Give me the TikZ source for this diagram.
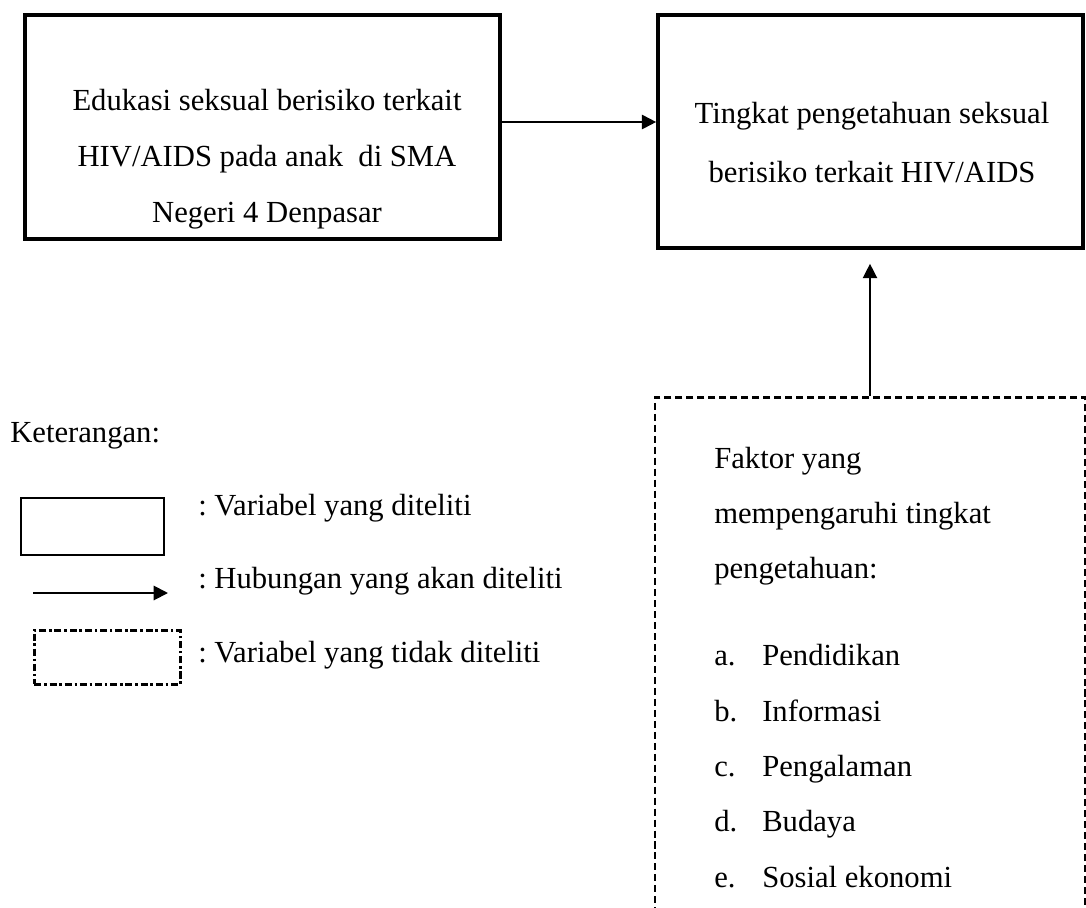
\documentclass[tikz,border=0pt]{standalone}
\usepackage{fontspec}
\setmainfont{Liberation Serif}
\usepackage{tikz}
\usetikzlibrary{positioning,calc,arrows.meta}
\tikzset{%
  arrow/.style = {
    -{Triangle[length=0.36cm, width=0.36cm]},
    line width = #1,
    draw = black,
  },
  arrow/.default = {1.2pt},
  vbox/.style = {
    draw = black,
    line width = #1,
    inner sep = 0pt,
  },
  vbox/.default = {2.6pt},
  nbox/.style = {
    draw = black,
    line width = 1.9pt,
    dash pattern = on 5pt off 2.8pt,
  },
  dotbox/.style = {
    draw = black,
    line width = 1.9pt,
    dash pattern = on 5pt off 2pt on 1.8pt off 2pt,
  },
  txt/.style = {
    inner sep = 0pt,
    anchor = base west,
    font = \fontsize{21.8}{39}\selectfont\frenchspacing,
  },
  ctxt/.style = {
    inner sep = 0pt,
    anchor = base,
    align = center,
    font = \fontsize{21.8}{#1}\selectfont,
  },
}

\begin{document}
\begin{tikzpicture}
\clip (0,0) rectangle (27.15,-22.675);

% variabel yang diteliti
\node(var1) [vbox, minimum width=11.875cm, minimum height=5.6cm]   at (6.5625,-3.175)  {};
\node(var2) [vbox, minimum width=10.625cm, minimum height=5.825cm] at (21.7625,-3.2875) {};
\node(var1txt) [ctxt=39.8pt] at (6.675,-5.55)
  {Edukasi seksual berisiko terkait\\HIV/AIDS pada anak \ di SMA\\Negeri 4 Denpasar};
\node(var2txt) [ctxt=41.9pt] at (21.8,-4.55)
  {Tingkat pengetahuan seksual\\berisiko terkait HIV/AIDS};

% variabel yang tidak diteliti
\node(faktor) [nbox, anchor=north, minimum width=10.75cm, minimum height=14cm] at (21.75,-9.9) {};
\node(f1) [txt] at (17.85,-11.7)   {Faktor yang};
\node(f2) [txt] at (17.85,-13.075) {mempengaruhi tingkat};
\node(f3) [txt] at (17.85,-14.45)  {pengetahuan:};
\node(la) [txt] at (17.85,-16.625) {a.};
\node(ia) [txt] at (19.05,-16.625) {Pendidikan};
\node(lb) [txt] at (17.85,-18.025) {b.};
\node(ib) [txt] at (19.05,-18.025) {Informasi};
\node(lc) [txt] at (17.85,-19.4)   {c.};
\node(ic) [txt] at (19.05,-19.4)   {Pengalaman};
\node(ld) [txt] at (17.85,-20.775) {d.};
\node(id) [txt] at (19.05,-20.775) {Budaya};
\node(le) [txt] at (17.85,-22.175) {e.};
\node(ie) [txt] at (19.05,-22.175) {Sosial ekonomi};

\draw[arrow=1.4pt] ([yshift=0.125cm]var1.east) -- ([yshift=0.2375cm]var2.west);
\draw[arrow=1pt]   (faktor.north) -- ($(var2.south -| faktor.north)+(0,-0.35)$);

% keterangan
\node(ket) [txt] at (0.25,-11.05) {Keterangan:};
\node(lg1) [vbox=1.4pt, anchor=north west, minimum width=3.575cm, minimum height=1.425cm] at (0.5,-12.425) {};
\node(lg1txt) [txt] at (4.95,-12.875) {: Variabel yang diteliti};
\coordinate(lg2a) at (0.825,-14.825);
\coordinate(lg2b) at (4.2,-14.825);
\draw[arrow=1.4pt] (lg2a) -- (lg2b);
\node(lg2txt) [txt] at (4.95,-14.7) {: Hubungan yang akan diteliti};
\node(lg3) [dotbox, anchor=north west, minimum width=3.65cm, minimum height=1.35cm] at (0.825,-15.725) {};
\node(lg3txt) [txt] at (4.95,-16.55) {: Variabel yang tidak diteliti};
\end{tikzpicture}
\end{document}
